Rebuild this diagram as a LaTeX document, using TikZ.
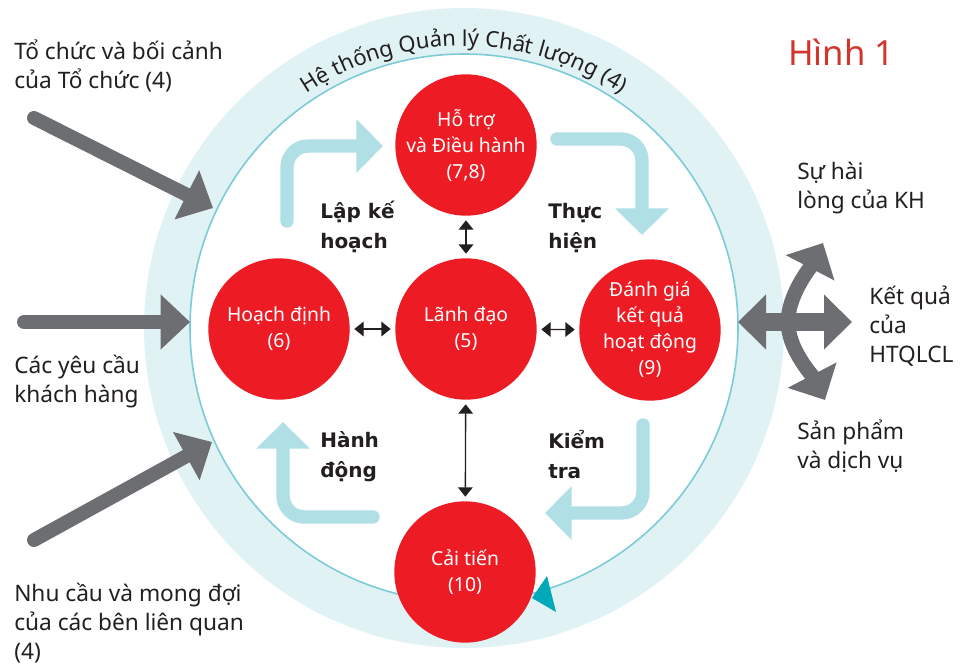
\documentclass[tikz,border=0pt]{standalone}
\usepackage{fontspec}
\setmainfont{Noto Sans}
\newfontfamily\phasefont{DejaVu Sans}
\usetikzlibrary{arrows.meta,decorations.text}

\definecolor{qred}{HTML}{ED1C24}
\definecolor{qtitle}{HTML}{D2352D}
\definecolor{qgray}{HTML}{6D6E71}
\definecolor{qring}{HTML}{E1F2F5}
\definecolor{qline}{HTML}{7CCBD6}
\definecolor{qcyan}{HTML}{B0DFE5}
\definecolor{qteal}{HTML}{00A9B8}
\definecolor{qtext}{HTML}{231F20}

\begin{document}
\begin{tikzpicture}[x=0.75pt, y=-0.75pt,
    every node/.style={text=qtext, inner sep=0pt},
    proc/.style={circle, fill=qred, minimum size=106pt, outer sep=0pt, text=white, align=center, font=\fontsize{14.5}{19.5}\selectfont},
    phase/.style={anchor=base west, align=left, font=\phasefont\bfseries\fontsize{15}{22.5}\selectfont},
    outtext/.style={anchor=base west, align=left, font=\fontsize{17}{21.5}\selectfont},
    pdcaarrow/.style={qcyan, line width=10pt, line cap=round, rounded corners=16pt, -{Triangle[length=20pt,width=39pt]}},
    inarrow/.style={qgray, line width=10.5pt, line cap=round, -{Triangle[length=22pt,width=40pt]}},
    outarrow/.style={qgray, line width=11pt, -{Triangle[length=21pt,width=40pt]}},
    lead/.style={qtext, line width=1pt, shorten <=3.5pt, shorten >=3.5pt, {Triangle[length=7pt,width=11pt]}-{Triangle[length=7pt,width=11pt]}}]
    \useasboundingbox (0,0) rectangle (965,668);
    % Ring of the system
    \coordinate (ring) at (464,328);
    \fill[qring] (ring) circle (320);
    \draw[qline, line width=1.2pt, fill=white] (ring) circle (274);
    \path[decorate, decoration={text along path, text align=center, text color=qtext,
        text={|\fontsize{16.5}{16.5}\selectfont|Hệ thống Quản lý Chất lượng (4)}}]
        (ring) ++(-125:282) arc[start angle=-125, end angle=-55, radius=282];
    \fill[qteal] (532,598) -- (547,576) -- (556,612) -- cycle;
    % Title
    \node[anchor=base west, text=qtitle, font=\fontsize{26}{26}\selectfont] (title) at (788,65) {Hình 1};
    % Process circles
    \node[proc] (hotro) at (466,145) {Hỗ trợ\\và Điều hành\\(7,8)};
    \node[proc] (hoachdinh) at (279,329) {Hoạch định\\(6)};
    \node[proc] (lanhdao) at (466,329) {Lãnh đạo\\(5)};
    \node[proc] (danhgia) at (650,330) {Đánh giá\\kết quả\\hoạt động\\(9)};
    \node[proc] (caitien) at (465,572) {Cải tiến\\(10)};
    \draw[lead] (hotro) -- (lanhdao);
    \draw[lead] (hoachdinh) -- (lanhdao);
    \draw[lead] (lanhdao) -- (danhgia);
    \draw[lead] (lanhdao) -- (caitien);
    % PDCA arrows
    \coordinate (lapA) at (287,221);
    \coordinate (lapB) at (383,146);
    \coordinate (thucA) at (557,139);
    \coordinate (thucB) at (642,235);
    \coordinate (kiemA) at (643,425);
    \coordinate (kiemB) at (545,513);
    \coordinate (hanhA) at (373,517);
    \coordinate (hanhB) at (283,422);
    \draw[pdcaarrow] (lapA) |- (lapB);
    \draw[pdcaarrow] (thucA) -| (thucB);
    \draw[pdcaarrow] (kiemA) |- (kiemB);
    \draw[pdcaarrow] (hanhA) -| (hanhB);
    % (base = last line)
    \node[phase] (lap) at (320,248) {Lập kế\\hoạch};
    \node[phase] (thuc) at (548,248) {Thực\\hiện};
    \node[phase] (hanh) at (320,477) {Hành\\động};
    \node[phase] (kiem) at (548,478) {Kiểm\\tra};
    % Inputs
    \coordinate (orgA) at (34,118);
    \coordinate (orgB) at (213,208);
    \coordinate (ycA) at (24,322);
    \coordinate (ycB) at (190,322);
    \coordinate (ncA) at (34,540);
    \coordinate (ncB) at (212,442);
    \draw[inarrow] (orgA) -- (orgB);
    \draw[inarrow] (ycA) -- (ycB);
    \draw[inarrow] (ncA) -- (ncB);
    \node[outtext] (org) at (14,88) {Tổ chức và bối cảnh\\của Tổ chức (4)};
    \node[outtext] (yc) at (14,402) {Các yêu cầu\\khách hàng};
    \node[outtext] (nc) at (14,659) {Nhu cầu và mong đợi\\của các bên liên quan\\(4)};
    % Outputs
    \coordinate (kqA) at (738,322);
    \coordinate (kqB) at (852,322);
    \coordinate (fork) at (788,322);
    \coordinate (hlB) at (823,243);
    \coordinate (spB) at (825,400);
    \draw[outarrow, line width=13pt, {Triangle[length=21pt,width=40pt]}-{Triangle[length=21pt,width=40pt]}] (kqA) -- (kqB);
    \draw[outarrow] (fork) .. controls (788,295) and (810,268) .. (hlB);
    \draw[outarrow] (fork) .. controls (788,349) and (812,375) .. (spB);
    \node[outtext] (hl) at (797,208) {Sự hài\\lòng của KH};
    \node[outtext] (kq) at (869,362) {Kết quả\\của\\HTQLCL};
    \node[outtext] (sp) at (797,468) {Sản phẩm\\và dịch vụ};
\end{tikzpicture}
\end{document}
